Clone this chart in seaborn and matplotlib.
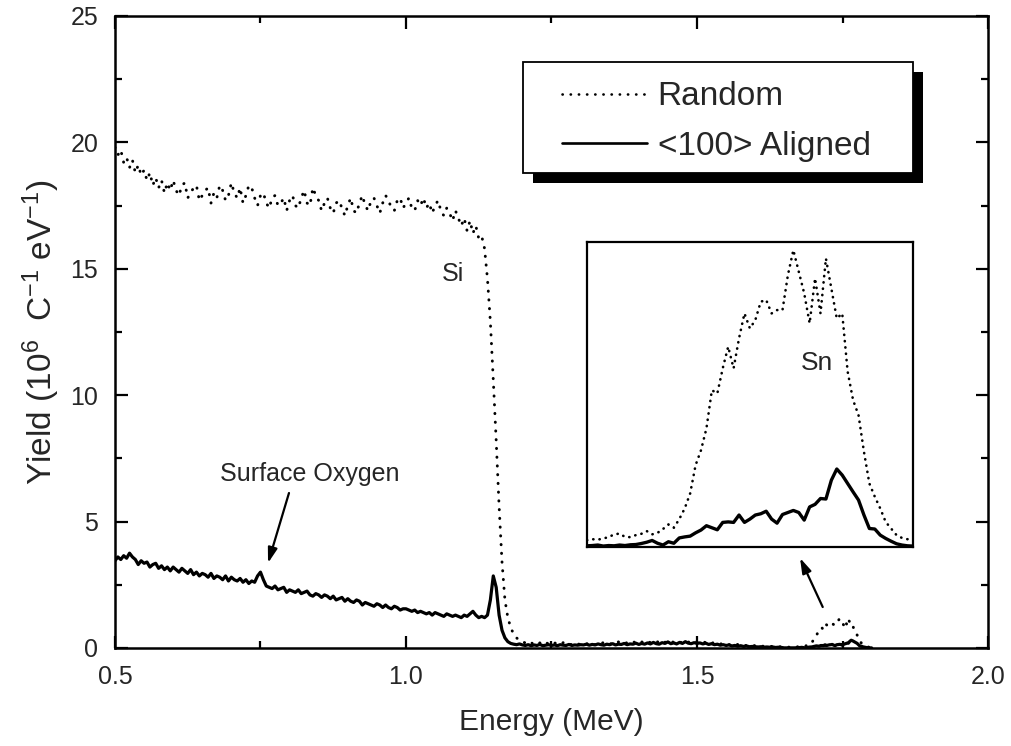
import numpy as np
import matplotlib
matplotlib.use("Agg")
import matplotlib.pyplot as plt
from matplotlib.lines import Line2D
from matplotlib.patches import Rectangle
from matplotlib.ticker import MultipleLocator, FormatStrFormatter
import seaborn as sns

# ---- RBS spectra: channel calibration -------------------------------------
E0_MAIN, DE_MAIN = 0.5, 0.005     # MeV, MeV per channel (Si / O region)
E0_SN, DE_SN = 1.65, 0.0025       # MeV, MeV per channel (Sn region, finer binning)

# Random-incidence yield, 0.500 ... 1.645 MeV (10^6 C^-1 eV^-1)
random_main = [
    19.8, 19.5, 19.7, 19.2, 19.4, 19.0, 19.3, 18.8, 19.1, 18.7, 18.9, 18.5, 18.8, 18.3, 18.6, 18.2, 18.5, 18.0, 18.4, 18.1,
    18.5, 18.1, 17.9, 18.3, 18.4, 17.8, 18.0, 18.2, 18.3, 17.7, 17.9, 18.1, 18.2, 17.6, 18.0, 17.8, 18.3, 18.1, 17.7, 17.9,
    18.4, 18.0, 17.8, 18.2, 17.6, 17.9, 18.3, 18.2, 17.8, 17.5, 17.9, 18.0, 17.6, 17.4, 17.8, 17.9, 17.5, 17.6, 17.8, 17.3,
    17.7, 17.9, 17.5, 17.4, 17.8, 18.1, 17.6, 17.5, 18.2, 17.9, 17.7, 17.3, 17.6, 17.8, 17.4, 17.2, 17.6, 17.7, 17.4, 17.1,
    17.5, 17.8, 17.3, 17.2, 17.6, 17.9, 17.5, 17.3, 17.7, 17.8, 17.5, 17.2, 17.6, 17.9, 17.7, 17.4, 17.3, 17.7, 17.8, 17.4,
    17.6, 17.8, 17.4, 17.3, 17.7, 17.5, 17.8, 17.4, 17.6, 17.2, 17.5, 17.7, 17.3, 17.1, 17.4, 17.2, 16.9, 17.3, 17.0, 16.7,
    17.0, 16.5, 16.9, 16.4, 16.7, 16.2, 16.3, 15.8, 14.6, 12.9, 10.6, 8.2, 5.6, 3.4, 1.9, 1.2, 0.8, 0.55, 0.4, 0.3,
    0.25, 0.2, 0.15, 0.22, 0.12, 0.18, 0.2, 0.14, 0.22, 0.16, 0.12, 0.2, 0.17, 0.13, 0.21, 0.15, 0.18, 0.12, 0.2, 0.16,
    0.14, 0.19, 0.15, 0.22, 0.17, 0.13, 0.2, 0.16, 0.23, 0.18, 0.14, 0.21, 0.17, 0.24, 0.19, 0.15, 0.22, 0.18, 0.25, 0.2,
    0.16, 0.24, 0.2, 0.27, 0.21, 0.18, 0.26, 0.22, 0.3, 0.23, 0.19, 0.27, 0.22, 0.29, 0.24, 0.2, 0.28, 0.23, 0.26, 0.21,
    0.25, 0.22, 0.27, 0.2, 0.24, 0.18, 0.23, 0.19, 0.15, 0.2, 0.16, 0.13, 0.17, 0.12, 0.14, 0.1, 0.13, 0.09, 0.11, 0.08,
    0.1, 0.07, 0.09, 0.06, 0.08, 0.05, 0.07, 0.05, 0.06, 0.04,
]

# <100> channelled yield, same channels
aligned_main = [
    3.45, 3.6, 3.5, 3.65, 3.55, 3.75, 3.6, 3.5, 3.3, 3.45, 3.35, 3.4, 3.2, 3.3, 3.35, 3.15, 3.25, 3.1, 3.2, 3.05,
    3.2, 3.1, 3.0, 3.15, 3.05, 2.95, 3.1, 2.9, 3.0, 2.85, 2.95, 2.9, 2.8, 2.95, 2.75, 2.85, 2.8, 2.7, 2.85, 2.65,
    2.8, 2.7, 2.65, 2.75, 2.6, 2.7, 2.55, 2.65, 2.6, 2.85, 3.0, 2.7, 2.45, 2.4, 2.35, 2.45, 2.3, 2.35, 2.4, 2.2,
    2.3, 2.25, 2.2, 2.3, 2.15, 2.2, 2.25, 2.1, 2.05, 2.15, 2.1, 2.0, 2.1, 2.05, 1.95, 2.05, 1.9, 1.95, 2.0, 1.85,
    1.95, 1.85, 1.8, 1.9, 1.85, 1.7, 1.8, 1.75, 1.7, 1.65, 1.75, 1.7, 1.6, 1.7, 1.6, 1.55, 1.65, 1.6, 1.5, 1.55,
    1.55, 1.5, 1.45, 1.5, 1.4, 1.45, 1.4, 1.35, 1.4, 1.3, 1.4, 1.35, 1.3, 1.25, 1.35, 1.3, 1.25, 1.3, 1.25, 1.2,
    1.3, 1.25, 1.35, 1.45, 1.3, 1.2, 1.25, 1.2, 1.3, 1.9, 2.85, 2.4, 1.3, 0.7, 0.4, 0.25, 0.18, 0.15, 0.13, 0.16,
    0.12, 0.1, 0.13, 0.09, 0.12, 0.1, 0.14, 0.09, 0.11, 0.13, 0.1, 0.12, 0.09, 0.13, 0.11, 0.1, 0.14, 0.1, 0.12, 0.11,
    0.13, 0.12, 0.15, 0.11, 0.14, 0.12, 0.16, 0.13, 0.11, 0.15, 0.13, 0.17, 0.12, 0.15, 0.14, 0.18, 0.13, 0.16, 0.15, 0.19,
    0.14, 0.18, 0.15, 0.2, 0.16, 0.22, 0.17, 0.15, 0.21, 0.18, 0.24, 0.17, 0.2, 0.16, 0.22, 0.18, 0.25, 0.19, 0.17, 0.21,
    0.18, 0.2, 0.16, 0.19, 0.14, 0.17, 0.13, 0.15, 0.11, 0.13, 0.1, 0.12, 0.08, 0.1, 0.07, 0.09, 0.06, 0.08, 0.05, 0.06,
    0.05, 0.04, 0.05, 0.03, 0.04, 0.03, 0.04, 0.02, 0.03, 0.02,
]

# Sn signal, 1.650 ... 1.800 MeV
random_sn = [
    0.026, 0.030, 0.028, 0.033, 0.038, 0.049, 0.052, 0.039, 0.038, 0.046,
    0.051, 0.062, 0.049, 0.055, 0.070, 0.088, 0.075, 0.109, 0.151, 0.210,
    0.321, 0.380, 0.466, 0.616, 0.603, 0.702, 0.787, 0.702, 0.820, 0.918,
    0.859, 0.892, 0.964, 0.971, 0.918, 0.931, 0.931, 1.069, 1.167, 1.082,
    0.997, 0.879, 1.056, 0.918, 1.134, 1.016, 0.898, 0.918, 0.689, 0.577,
    0.518, 0.374, 0.249, 0.197, 0.151, 0.098, 0.072, 0.046, 0.035, 0.030,
    0.033,
]
aligned_sn = [
    0.004, 0.005, 0.007, 0.003, 0.005, 0.004, 0.007, 0.005, 0.008, 0.009,
    0.013, 0.018, 0.025, 0.014, 0.007, 0.020, 0.014, 0.035, 0.039, 0.042,
    0.055, 0.066, 0.083, 0.075, 0.067, 0.096, 0.098, 0.096, 0.125, 0.096,
    0.109, 0.125, 0.130, 0.140, 0.109, 0.093, 0.127, 0.135, 0.143, 0.135,
    0.105, 0.157, 0.167, 0.190, 0.188, 0.262, 0.306, 0.282, 0.249, 0.216,
    0.184, 0.125, 0.072, 0.070, 0.046, 0.033, 0.022, 0.012, 0.007, 0.004,
    0.003,
]

series_labels = ["Random", "<100> Aligned"]

energy_main = E0_MAIN + DE_MAIN * np.arange(len(random_main))
energy_sn = E0_SN + DE_SN * np.arange(len(random_sn))
energy = np.concatenate([energy_main, energy_sn])
random_all = np.concatenate([random_main, random_sn])
aligned_all = np.concatenate([aligned_main, aligned_sn])

# ---- style ------------------------------------------------------------------
sns.set_style("ticks")
plt.rcParams["font.family"] = ["Liberation Sans", "DejaVu Sans"]
plt.rcParams["mathtext.fontset"] = "custom"
plt.rcParams["mathtext.rm"] = "Liberation Sans"
plt.rcParams["mathtext.it"] = "Liberation Sans:italic"
plt.rcParams["mathtext.default"] = "regular"

DOTTED = (0, (0.1, 2.9))
DOTTED_FINE = (0, (0.1, 2.3))

fig = plt.figure(figsize=(10.12, 7.46), dpi=100)
ax = fig.add_axes([0.1136, 0.1314, 0.8627, 0.8472])

sns.lineplot(x=energy, y=random_all, ax=ax, color="black", lw=2.1,
             linestyle=DOTTED, dash_capstyle="round", sort=False,
             estimator=None, errorbar=None)
sns.lineplot(x=energy, y=aligned_all, ax=ax, color="black", lw=2.3,
             sort=False, estimator=None, errorbar=None)

ax.set_xlim(0.5, 2.0)
ax.set_ylim(0, 25)
ax.xaxis.set_major_locator(MultipleLocator(0.5))
ax.xaxis.set_minor_locator(MultipleLocator(0.25))
ax.yaxis.set_major_locator(MultipleLocator(5))
ax.yaxis.set_minor_locator(MultipleLocator(2.5))
ax.xaxis.set_major_formatter(FormatStrFormatter("%.1f"))
ax.tick_params(which="both", direction="in", top=True, right=True,
               width=1.6, color="black", labelsize=18)
ax.tick_params(which="major", length=9)
ax.tick_params(which="minor", length=5)
ax.tick_params(axis="x", pad=12)
ax.tick_params(axis="y", pad=12)
for sp in ax.spines.values():
    sp.set_linewidth(1.8)
    sp.set_color("black")

ax.set_xlabel("Energy (MeV)", fontsize=21.5, labelpad=14)
ax.set_ylabel("Yield (10$^{6}$  C$^{-1}$ eV$^{-1}$)", fontsize=24, labelpad=6)

# peak labels and arrows
ax.text(1.081, 14.8, "Si", fontsize=18, ha="center", va="center")
ax.text(0.835, 6.88, "Surface Oxygen", fontsize=18, ha="center", va="center")
arrow_kw = dict(arrowstyle="-|>,head_length=0.9,head_width=0.28",
                color="black", lw=1.6, shrinkA=0, shrinkB=0)
ax.annotate("", xy=(0.763, 3.36), xytext=(0.799, 6.13), arrowprops=arrow_kw)
ax.annotate("", xy=(1.677, 3.56), xytext=(1.716, 1.62), arrowprops=arrow_kw)

# legend in a framed box with a solid drop shadow
box_x, box_y, box_w, box_h = 0.467, 0.752, 0.447, 0.175
ax.add_patch(Rectangle((box_x + 0.0115, box_y - 0.0158), box_w, box_h,
                       transform=ax.transAxes, facecolor="black",
                       edgecolor="none", zorder=4))
ax.add_patch(Rectangle((box_x, box_y), box_w, box_h, transform=ax.transAxes,
                       facecolor="white", edgecolor="black", lw=1.3, zorder=5))
handles = [
    Line2D([], [], color="black", lw=1.9, linestyle=(0, (0.1, 3.0)),
           dash_capstyle="round"),
    Line2D([], [], color="black", lw=1.9),
]
leg = ax.legend(handles, series_labels, loc="center left",
                bbox_to_anchor=(0.512, 0.833), frameon=False, fontsize=24,
                handlelength=2.54, handletextpad=0.33, labelspacing=0.55,
                borderpad=0, borderaxespad=0)
leg.set_zorder(6)

# inset: magnified Sn signal
axin = fig.add_axes([0.580, 0.267, 0.322, 0.409])
axin.set_facecolor("white")
sns.lineplot(x=energy_sn, y=random_sn, ax=axin, color="black", lw=1.9,
             linestyle=DOTTED_FINE, dash_capstyle="round", sort=False,
             estimator=None, errorbar=None)
sns.lineplot(x=energy_sn, y=aligned_sn, ax=axin, color="black", lw=2.4,
             sort=False, estimator=None, errorbar=None)
axin.set_xlim(1.65, 1.80)
axin.set_ylim(0, 1.2)
axin.set_xticks([])
axin.set_yticks([])
axin.set_xlabel("")
axin.set_ylabel("")
for sp in axin.spines.values():
    sp.set_linewidth(1.6)
    sp.set_color("black")
axin.text(1.756, 0.724, "Sn", fontsize=19, ha="center", va="center")

fig.savefig("out.png", dpi=100)
